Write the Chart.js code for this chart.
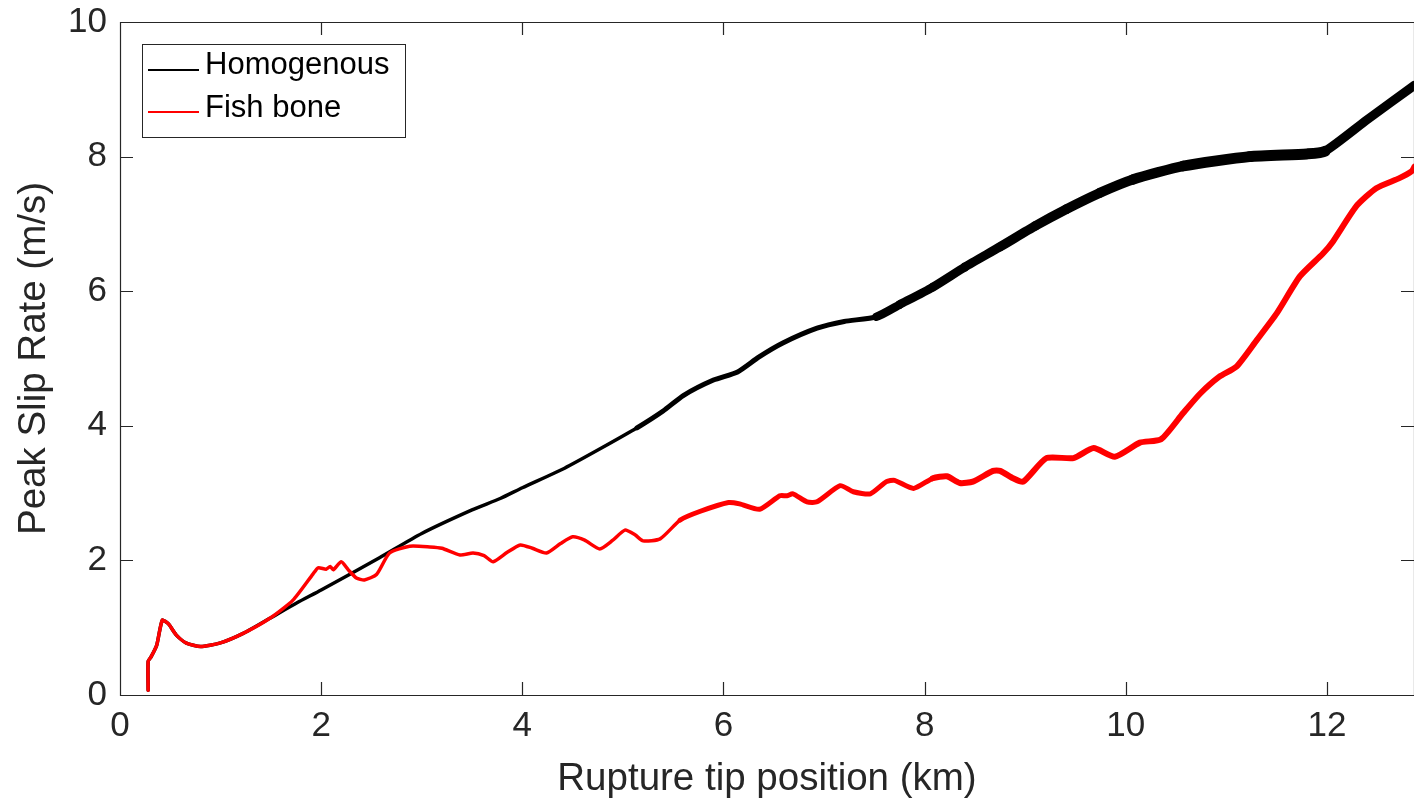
<!DOCTYPE html>
<html>
<head>
<meta charset="utf-8">
<script src="https://cdn.jsdelivr.net/npm/chart.js@4.4.1/dist/chart.umd.min.js"></script>
<style>
  html, body { margin: 0; padding: 0; background: #fff; }
  #wrap { width: 1414px; height: 802px; }
</style>
</head>
<body>
<div id="wrap"><canvas id="slip-rate-plot" width="1414" height="802"></canvas></div>
<script>
// tick values
const xTicks = [0, 2, 4, 6, 8, 10, 12];
const yTicks = [0, 2, 4, 6, 8, 10];

// Homogenous (km, m/s)
const homogenousX = [0.28, 0.28, 0.31, 0.365, 0.42, 0.48, 0.56, 0.66, 0.80, 0.99, 1.23, 1.49, 1.76, 2.0, 2.58, 3.0, 3.5, 3.78, 4.0, 4.42, 4.8, 5.14, 5.4, 5.6, 5.9, 6.14, 6.35, 6.59, 6.93, 7.2, 7.52, 7.75, 8.08, 8.4, 8.75, 9.1, 9.41, 9.74, 10.07, 10.57, 11.23, 11.8, 11.98, 12.4, 12.87];
const homogenousY = [0.07, 0.50, 0.57, 0.74, 1.11, 1.06, 0.89, 0.77, 0.72, 0.77, 0.92, 1.14, 1.37, 1.56, 2.04, 2.40, 2.75, 2.92, 3.08, 3.37, 3.68, 3.97, 4.22, 4.45, 4.68, 4.80, 5.02, 5.23, 5.45, 5.55, 5.62, 5.80, 6.06, 6.36, 6.66, 6.97, 7.22, 7.46, 7.66, 7.86, 8.00, 8.04, 8.08, 8.55, 9.06];

// Fish bone (km, m/s)
const fishBoneX = [0.28, 0.28, 0.31, 0.365, 0.42, 0.48, 0.56, 0.66, 0.80, 0.99, 1.23, 1.49, 1.72, 1.92, 1.97, 2.05, 2.09, 2.12, 2.2, 2.27, 2.35, 2.43, 2.55, 2.68, 2.88, 3.08, 3.2, 3.38, 3.51, 3.62, 3.71, 3.85, 3.98, 4.1, 4.24, 4.38, 4.5, 4.62, 4.77, 4.9, 5.02, 5.12, 5.20, 5.37, 5.57, 5.77, 6.05, 6.16, 6.36, 6.56, 6.63, 6.69, 6.83, 6.93, 7.16, 7.29, 7.46, 7.62, 7.70, 7.89, 8.08, 8.22, 8.35, 8.48, 8.68, 8.75, 8.88, 8.98, 9.21, 9.48, 9.68, 9.89, 10.14, 10.35, 10.57, 10.74, 10.93, 11.10, 11.30, 11.50, 11.73, 11.96, 12.06, 12.29, 12.49, 12.72, 12.84, 12.87];
const fishBoneY = [0.07, 0.50, 0.57, 0.74, 1.11, 1.06, 0.89, 0.77, 0.72, 0.77, 0.92, 1.14, 1.41, 1.80, 1.89, 1.87, 1.91, 1.86, 1.98, 1.86, 1.74, 1.71, 1.79, 2.11, 2.21, 2.20, 2.18, 2.08, 2.11, 2.07, 1.98, 2.12, 2.23, 2.18, 2.11, 2.25, 2.35, 2.30, 2.17, 2.30, 2.45, 2.38, 2.29, 2.32, 2.60, 2.73, 2.86, 2.84, 2.76, 2.96, 2.96, 2.99, 2.87, 2.87, 3.11, 3.02, 2.99, 3.17, 3.19, 3.07, 3.22, 3.25, 3.15, 3.17, 3.33, 3.33, 3.22, 3.17, 3.52, 3.52, 3.67, 3.54, 3.75, 3.80, 4.19, 4.48, 4.73, 4.88, 5.27, 5.67, 6.22, 6.56, 6.74, 7.26, 7.53, 7.68, 7.78, 7.85];

const axisColor = '#262626';
const fontFamily = '"Liberation Sans", Arial, Helvetica, sans-serif';

function toPoints(xs, ys) {
    return xs.map((x, i) => ({ x: x, y: ys[i] }));
}

// the simulated lines oscillate, so they look thicker further along the fault
function homogenousWidth(ctx) {
    const x = ctx.p0.parsed.x;
    if (x < 5.1) return 3.5;
    if (x < 7.5) return 5;
    if (x < 11.95) return 8.5 + 2.5 * Math.min(1, (x - 7.5) / 3.5);
    return 9;
}

function fishBoneWidth(ctx) {
    const x = ctx.p0.parsed.x;
    if (x < 5.5) return 3.5;
    if (x < 8) return 5;
    return 6;
}

// MATLAB-style box with inward ticks
const boxPlugin = {
    id: 'boxPlugin',
    afterDraw(chart) {
        const { ctx, chartArea: a, scales } = chart;
        const len = 13;
        ctx.save();
        ctx.strokeStyle = axisColor;
        ctx.lineWidth = 1.2;
        ctx.beginPath();
        ctx.rect(a.left + 0.5, a.top + 0.5, a.right - a.left, a.bottom - a.top);
        xTicks.forEach(v => {
            const px = Math.round(scales.x.getPixelForValue(v)) + 0.5;
            ctx.moveTo(px, a.bottom); ctx.lineTo(px, a.bottom - len);
            ctx.moveTo(px, a.top); ctx.lineTo(px, a.top + len);
        });
        yTicks.forEach(v => {
            const py = Math.round(scales.y.getPixelForValue(v)) + 0.5;
            ctx.moveTo(a.left, py); ctx.lineTo(a.left + len, py);
            ctx.moveTo(a.right, py); ctx.lineTo(a.right - len, py);
        });
        ctx.stroke();
        ctx.restore();
    }
};

const legendPlugin = {
    id: 'legendPlugin',
    afterDraw(chart) {
        const { ctx } = chart;
        const sets = chart.data.datasets;
        ctx.save();
        ctx.fillStyle = '#fff';
        ctx.fillRect(142.5, 44.5, 263, 93);
        ctx.strokeStyle = axisColor;
        ctx.lineWidth = 1;
        ctx.strokeRect(142.5, 44.5, 263, 93);
        ctx.font = '31px ' + fontFamily;
        ctx.textBaseline = 'alphabetic';
        sets.forEach((ds, i) => {
            const y = 70 + i * 42;
            ctx.strokeStyle = ds.borderColor;
            ctx.lineWidth = 2;
            ctx.beginPath();
            ctx.moveTo(148, y); ctx.lineTo(199, y);
            ctx.stroke();
            ctx.fillStyle = '#000';
            ctx.fillText(ds.label, 205, 74 + i * 43);
        });
        ctx.restore();
    }
};

new Chart('slip-rate-plot', {
    type: 'line',
    data: {
        datasets: [
            {
                label: 'Homogenous',
                data: toPoints(homogenousX, homogenousY),
                borderColor: '#000000',
                borderWidth: 3.5,
                borderCapStyle: 'round',
                borderJoinStyle: 'round',
                pointRadius: 0,
                tension: 0.2,
                order: 1,
                segment: { borderWidth: homogenousWidth }
            },
            {
                label: 'Fish bone',
                data: toPoints(fishBoneX, fishBoneY),
                borderColor: '#ff0000',
                borderWidth: 3.5,
                borderCapStyle: 'round',
                borderJoinStyle: 'round',
                pointRadius: 0,
                tension: 0.2,
                order: 0,
                segment: { borderWidth: fishBoneWidth }
            }
        ]
    },
    options: {
        responsive: false,
        animation: false,
        layout: { padding: { top: 22, right: 0, left: 11, bottom: 0 } },
        plugins: {
            legend: { display: false },
            tooltip: { enabled: false }
        },
        scales: {
            x: {
                type: 'linear',
                min: 0,
                max: 12.865,
                afterBuildTicks: axis => { axis.ticks = xTicks.map(v => ({ value: v })); },
                afterFit: axis => {
                    axis.height = 107;
                    axis.paddingLeft = 0;
                    axis.paddingRight = 0;
                },
                grid: { display: false, drawTicks: false },
                border: { display: false },
                ticks: {
                    color: axisColor,
                    padding: 10,
                    maxRotation: 0,
                    font: { family: fontFamily, size: 35 }
                },
                title: {
                    display: true,
                    text: 'Rupture tip position (km)',
                    color: axisColor,
                    font: { family: fontFamily, size: 38.5 },
                    padding: 0
                }
            },
            y: {
                type: 'linear',
                min: 0,
                max: 10,
                afterBuildTicks: axis => { axis.ticks = yTicks.map(v => ({ value: v })); },
                afterFit: axis => {
                    axis.width = 109;
                    axis.paddingTop = 0;
                    axis.paddingBottom = 0;
                },
                grid: { display: false, drawTicks: false },
                border: { display: false },
                ticks: {
                    color: axisColor,
                    padding: 13,
                    font: { family: fontFamily, size: 35 }
                },
                title: {
                    display: true,
                    text: 'Peak Slip Rate (m/s)',
                    color: axisColor,
                    font: { family: fontFamily, size: 38.5 },
                    padding: 0
                }
            }
        }
    },
    plugins: [boxPlugin, legendPlugin]
});
</script>
</body>
</html>
